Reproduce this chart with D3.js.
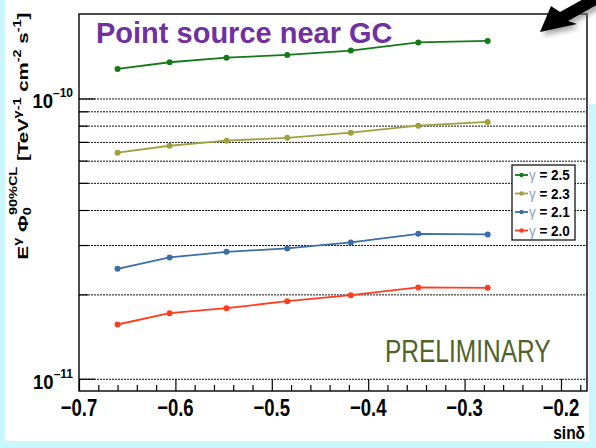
<!DOCTYPE html>
<html>
<head>
<meta charset="utf-8">
<script src="https://cdn.jsdelivr.net/npm/d3@7"></script>
<style>
  body { margin: 0; background: #c9f7fd; }
  svg { display: block; }
</style>
</head>
<body>
<svg id="chart" width="596" height="448"></svg>
<script>
// sin(declination) of the sources
const sinDec = [-0.660, -0.606, -0.547, -0.484, -0.418, -0.348, -0.276]

// 90% CL flux limits, one array per spectral index
const flux25 = [1.280e-10, 1.352e-10, 1.404e-10, 1.436e-10, 1.488e-10, 1.591e-10, 1.611e-10]
const flux23 = [6.43e-11, 6.81e-11, 7.10e-11, 7.27e-11, 7.58e-11, 8.03e-11, 8.28e-11]
const flux21 = [2.477e-11, 2.720e-11, 2.848e-11, 2.929e-11, 3.078e-11, 3.303e-11, 3.287e-11]
const flux20 = [1.568e-11, 1.721e-11, 1.793e-11, 1.899e-11, 1.995e-11, 2.127e-11, 2.119e-11]

const seriesNames = ['2.5', '2.3', '2.1', '2.0']
const seriesColors = ['#137a17', '#a0a040', '#3c6ea6', '#ff3c1e']

const xTicks = [-0.7, -0.6, -0.5, -0.4, -0.3, -0.2]
const yMajor = [1e-11, 1e-10]
const yGrid = [1e-11, 2e-11, 3e-11, 4e-11, 5e-11, 6e-11, 7e-11, 8e-11, 9e-11, 1e-10]

const font = "'Liberation Sans', Arial, sans-serif"
const padL = 79, padR = 587, padT = 14, padB = 391
// the ROOT picture was pasted stretched in height
const stretch = 1.3

const svg = d3.select('#chart')

// white picture on the cyan slide
svg.append('rect').attr('x', 5).attr('y', 0).attr('width', 584).attr('height', 441).attr('fill', '#fff')
svg.append('rect').attr('x', 589).attr('y', 0).attr('width', 7).attr('height', 104).attr('fill', '#fff')

const x = d3.scaleLinear().domain([-0.7, -0.173]).range([padL, padR])
const y = d3.scaleLog().domain([9.08e-12, 2.01e-10]).range([padB, padT])

// dotted grid
svg.append('g').selectAll('line').data(yGrid).enter().append('line')
    .attr('x1', padL).attr('x2', padR)
    .attr('y1', d => y(d)).attr('y2', d => y(d))
    .attr('stroke', '#111').attr('stroke-width', 1).attr('stroke-dasharray', '2,1')

// y ticks
svg.append('g').selectAll('line').data(yGrid).enter().append('line')
    .attr('x1', padL)
    .attr('x2', d => yMajor.includes(d) ? padL + 16 : padL + 9)
    .attr('y1', d => y(d)).attr('y2', d => y(d))
    .attr('stroke', '#000').attr('stroke-width', 1.2)

// x axis ticks, major and minor
const xAxis = d3.axisBottom(x).tickValues(xTicks).tickSize(-12).tickFormat('')
svg.append('g').attr('transform', 'translate(0,' + padB + ')').call(xAxis)
    .call(g => g.select('.domain').remove())
    .selectAll('line').attr('stroke-width', 1.2)
const minor = d3.range(-0.68, -0.17, 0.02).filter(v => Math.abs(v * 10 - Math.round(v * 10)) > 0.01)
svg.append('g').attr('transform', 'translate(0,' + padB + ')')
    .call(d3.axisBottom(x).tickValues(minor).tickSize(-6).tickFormat(''))
    .call(g => g.select('.domain').remove())
    .selectAll('line').attr('stroke-width', 1.2)

// frame
svg.append('rect').attr('x', padL).attr('y', padT).attr('width', padR - padL).attr('height', padB - padT)
    .attr('fill', 'none').attr('stroke', '#000').attr('stroke-width', 1.4)

// x tick labels
svg.append('g').selectAll('text').data(xTicks).enter().append('text')
    .attr('transform', d => 'translate(' + x(d) + ',415.5) scale(1,' + stretch + ')')
    .attr('text-anchor', 'middle')
    .attr('font-family', font).attr('font-weight', 'bold').attr('font-size', 18.5)
    .text(d => d3.format('.1f')(d).replace('-', '\u2013'))

// y tick labels
yMajor.forEach(d => {
    var t = svg.append('text').attr('transform', 'translate(73,' + (y(d) + 9.5) + ') scale(1,1.1)')
        .attr('text-anchor', 'end')
        .attr('font-family', font).attr('font-weight', 'bold').attr('font-size', 18.5)
    t.append('tspan').text('10')
    t.append('tspan').attr('dy', -10).attr('font-size', 12).text('\u2013' + Math.round(-Math.log10(d)))
})

// axis titles
svg.append('text').attr('transform', 'translate(585,439) scale(1,1.2)')
    .attr('text-anchor', 'end')
    .attr('font-family', font).attr('font-weight', 'bold').attr('font-size', 15.5)
    .text('sin\u03b4')

var yt = svg.append('text')
    .attr('text-anchor', 'middle')
    .attr('font-family', font).attr('font-weight', 'bold').attr('font-size', 15.5)
yt.append('tspan').text('E')
yt.append('tspan').attr('dy', -7).attr('font-size', 11).text('\u03b3')
yt.append('tspan').attr('dy', 7).text(' \u03a6')
yt.append('tspan').attr('dy', 3).attr('font-size', 11).text('0')
yt.append('tspan').attr('dx', -6).attr('dy', -14).attr('font-size', 11).text('90%CL')
yt.append('tspan').attr('dy', 11).text(' [TeV')
yt.append('tspan').attr('dy', -7).attr('font-size', 11).text('\u03b3-1')
yt.append('tspan').attr('dy', 7).text(' cm')
yt.append('tspan').attr('dy', -7).attr('font-size', 11).text('-2')
yt.append('tspan').attr('dy', 7).text(' s')
yt.append('tspan').attr('dy', -7).attr('font-size', 11).text('-1')
yt.append('tspan').attr('dy', 7).text(']')
// stretch the title along its own direction to the reference length
const ytLen = yt.node().getBBox().width
yt.attr('transform', 'translate(28,136) rotate(-90) scale(' + (247 / ytLen) + ',1)')

// series
const allFlux = [flux25, flux23, flux21, flux20]
const line = d3.line().x((d, i) => x(sinDec[i])).y(d => y(d))

allFlux.forEach((flux, k) => {
    svg.append('path').datum(flux).attr('d', line)
        .attr('fill', 'none').attr('stroke', seriesColors[k]).attr('stroke-width', 1.8)
    svg.append('g').selectAll('circle').data(flux).enter().append('circle')
        .attr('cx', (d, i) => x(sinDec[i])).attr('cy', d => y(d)).attr('r', 3)
        .attr('fill', seriesColors[k])
})

// legend
const lg = svg.append('g').attr('transform', 'translate(512,165)')
lg.append('rect').attr('width', 63).attr('height', 75).attr('fill', '#fff')
    .attr('stroke', '#000').attr('stroke-width', 1.2)
seriesNames.forEach((name, k) => {
    var ly = 10 + k * 18.5
    lg.append('line').attr('x1', 3).attr('x2', 16).attr('y1', ly).attr('y2', ly)
        .attr('stroke', seriesColors[k]).attr('stroke-width', 1.8)
    lg.append('circle').attr('cx', 9.5).attr('cy', ly).attr('r', 2.2).attr('fill', seriesColors[k])
    var t = lg.append('text').attr('transform', 'translate(17,' + (ly + 5) + ') scale(1,1.15)')
        .attr('font-family', font).attr('font-weight', 'bold').attr('font-size', 13.5)
    t.append('tspan').attr('fill', '#8aa0b4').attr('font-weight', 'normal').text('\u03b3')
    t.append('tspan').attr('fill', '#000').text(' = ' + name)
})

// slide annotations
svg.append('text').attr('x', 96).attr('y', 43).attr('font-family', font).attr('font-weight', 'bold')
    .attr('font-size', 29).attr('fill', '#7030a0').text('Point source near GC')

svg.append('text').attr('transform', 'translate(385,362) scale(1,' + stretch + ')')
    .attr('font-family', font)
    .attr('font-size', 24.5).attr('fill', '#4f6228').text('PRELIMINARY')

// black arrow with shadow
const defs = svg.append('defs')
defs.append('filter').attr('id', 'blur').append('feGaussianBlur').attr('stdDeviation', 2.5)
const arrow = 'M540,32 L551,6 L560,12 L596,-8 L602,2 L568,21 L577,24 Z'
svg.append('path').attr('d', arrow).attr('fill', '#777').attr('opacity', 0.6)
    .attr('transform', 'translate(3,4)').attr('filter', 'url(#blur)')
svg.append('path').attr('d', arrow).attr('fill', '#000')
</script>
</body>
</html>
